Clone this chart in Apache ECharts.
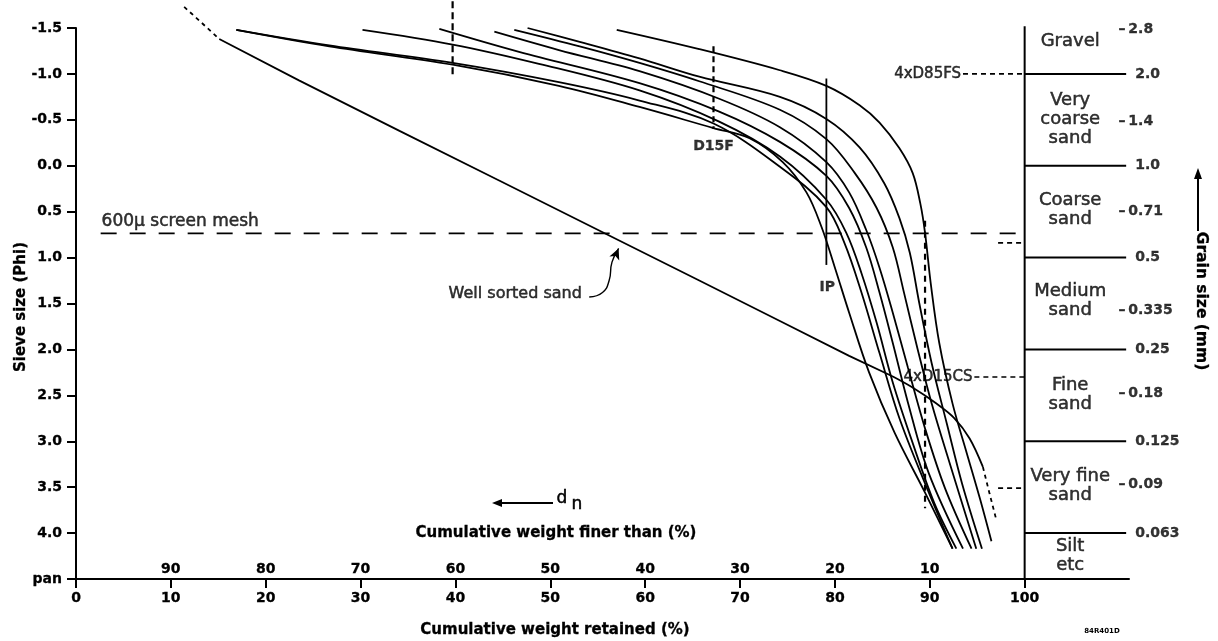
<!DOCTYPE html>
<html>
<head>
<meta charset="utf-8">
<title>Grading curves</title>
<script src="https://cdn.jsdelivr.net/npm/echarts@6.0.0/dist/echarts.min.js"></script>
<style>
  html, body { margin: 0; padding: 0; background: #fff; }
  #chart { width: 1218px; height: 641px; }
</style>
</head>
<body>
<div id="chart"></div>
<script>
// sieve size axis (phi), 4.5 is the pan
const phiMin = -1.5;
const phiMax = 4.5;
// cumulative weight retained (%) below the axis, finer than (%) above it
const retainedTicks = [0, 10, 20, 30, 40, 50, 60, 70, 80, 90, 100];
const finerTicks = [10, 20, 30, 40, 50, 60, 70, 80, 90];

// grain size scale (mm) on the right
const boundaryPhi = [-1, 0, 1, 2, 3, 4];
const boundaryMm = ['2.0', '1.0', '0.5', '0.25', '0.125', '0.063'];
const midPhi = [-1.485, -0.485, 0.494, 1.578, 2.474, 3.474];
const midMm = ['2.8', '1.4', '0.71', '0.335', '0.18', '0.09'];
const classNames = ['Gravel', 'Very\ncoarse\nsand', 'Coarse\nsand', 'Medium\nsand', 'Fine\nsand', 'Very fine\nsand', 'Silt\netc'];
const classPhi = [-1.36, -0.51, 0.48, 1.47, 2.49, 3.49, 4.25];

// grading curves, [% retained, phi]
const sampleA = [[57.0,-1.48],[65.7,-1.27],[74.2,-1.04],[79.1,-0.87],[82.6,-0.66],[84.7,-0.47],[86.8,-0.19],[88.2,0.08],[89.0,0.41],[89.5,0.73],[90.1,1.28],[91.0,1.93],[92.4,2.59],[93.9,3.13],[95.3,3.63],[96.5,4.09]];
const sampleB = [[47.6,-1.50],[53.1,-1.35],[59.4,-1.17],[65.7,-0.97],[74.2,-0.75],[79.1,-0.51],[82.6,-0.20],[85.2,0.19],[86.8,0.57],[87.9,0.95],[88.9,1.50],[90.2,2.15],[91.8,2.81],[93.4,3.46],[95.5,4.17]];
const sampleC = [[46.2,-1.48],[53.1,-1.30],[59.4,-1.12],[65.7,-0.92],[74.2,-0.61],[79.1,-0.29],[82.1,0.08],[84.4,0.46],[86.1,0.89],[87.3,1.39],[88.7,1.99],[90.2,2.59],[92.1,3.24],[94.9,4.17]];
const sampleD = [[44.1,-1.46],[50.9,-1.26],[59.4,-1.03],[67.8,-0.73],[74.2,-0.42],[79.1,-0.04],[81.5,0.29],[83.3,0.70],[84.7,1.11],[86.1,1.60],[87.7,2.20],[89.5,2.86],[91.6,3.51],[94.4,4.17]];
const sampleE = [[38.3,-1.49],[46.7,-1.24],[59.4,-0.90],[67.8,-0.59],[74.2,-0.26],[79.1,0.11],[81.5,0.46],[83.3,0.89],[84.7,1.38],[86.1,1.93],[87.7,2.58],[89.9,3.35],[93.5,4.17]];
const sampleF = [[30.2,-1.48],[39.7,-1.32],[48.8,-1.11],[59.4,-0.82],[67.8,-0.48],[74.2,-0.10],[79.1,0.37],[81.2,0.73],[82.8,1.17],[84.4,1.71],[86.1,2.36],[88.2,3.02],[90.5,3.68],[92.8,4.17]];
const sampleG = [[16.9,-1.48],[26.7,-1.31],[39.7,-1.12],[50.9,-0.91],[59.4,-0.71],[67.2,-0.46],[74.2,0.01],[79.1,0.45],[81.0,0.84],[82.8,1.38],[84.7,2.04],[86.8,2.75],[89.5,3.46],[92.4,4.17]];
const sampleH = [[16.9,-1.48],[26.7,-1.30],[39.7,-1.10],[50.9,-0.87],[59.4,-0.64],[67.2,-0.41],[71.0,-0.30],[74.5,-0.04],[77.0,0.29],[78.6,0.67],[80.0,1.11],[81.5,1.60],[83.6,2.25],[86.3,2.91],[89.5,3.56],[92.4,4.17]];

// well sorted sand: straight run, bending tail, and the dotted / dashed extensions
const wellSorted = [[15.1,-1.38],[23.5,-0.93],[34.1,-0.38],[44.6,0.16],[56.2,0.76],[65.7,1.25],[74.2,1.69],[81.5,2.07],[86.0,2.29]];
const wellSortedTail = [[86.0,2.29],[88.1,2.41],[90.7,2.59],[92.6,2.75],[94.2,2.97],[95.6,3.28]];
const wellSortedTop = [[11.4,-1.73],[13.0,-1.58],[15.1,-1.38]];
const wellSortedEnd = [[95.6,3.28],[96.3,3.57],[97.0,3.85]];

// construction lines
const screenMesh = [[2.6,0.737],[99.5,0.737]];
const meshStub = [[97.2,0.84],[99.8,0.84]];
const dashAt40 = [[39.7,-1.79],[39.7,-0.96]];
const d15fLine = [[67.2,-1.30],[67.2,-0.40]];
const ipLine = [[79.1,-0.95],[79.1,1.08]];
const dashAt90 = [[89.5,0.60],[89.5,3.73]];
const d85Leader = [[93.5,-1.0],[100,-1.0]];
const d15Leader = [[94.7,2.30],[100,2.30]];
const vfLeader = [[97.2,3.51],[100,3.51]];
const wsPointer = [[54.1,1.43],[55.5,1.38],[56.2,1.25],[56.5,1.05],[57.2,0.90]];
const scaleEdge = [[100,-1.52],[100,4.5]];
const scaleRight = 110.7;

const ink = '#000';
const chart = echarts.init(document.getElementById('chart'));

function line(data, opts) {
  return Object.assign({
    type: 'line', data: data, symbol: 'none', clip: false, silent: true,
    lineStyle: { color: ink, width: 1.8 }, z: 3
  }, opts || {});
}
function dashed(data, dash, width) {
  return line(data, { lineStyle: { color: ink, width: width || 2, type: dash } });
}
// text only marks anchored in data space
function texts(points, labels, label) {
  return {
    type: 'scatter', data: points, symbolSize: 0, clip: false, silent: true,
    itemStyle: { color: 'transparent' }, z: 6,
    label: Object.assign({
      show: true, color: ink, textBorderColor: ink, textBorderWidth: 0.5,
      formatter: p => labels[p.dataIndex]
    }, label)
  };
}

const samples = [sampleA, sampleB, sampleC, sampleD, sampleE, sampleF, sampleG, sampleH];
const pointer = wsPointer.map((p, i) => i === wsPointer.length - 1
  ? { value: p, symbol: 'arrow', symbolSize: [8, 11], symbolRotate: -23 } : p);

const series = [
  ...samples.map(d => line(d, { smooth: 0.35 })),
  line(wellSorted),
  line(wellSortedTail, { smooth: 0.35 }),
  dashed(wellSortedTop, [4, 4], 1.8),
  dashed(wellSortedEnd, [4, 4], 1.8),
  dashed(screenMesh, [16, 13], 1.8),
  dashed(meshStub, [5, 4], 1.8),
  dashed(dashAt40, [7, 4], 2.2),
  dashed(d15fLine, [6, 4], 2.2),
  line(ipLine),
  dashed(dashAt90, [6, 5], 2.2),
  dashed(d85Leader, [5, 4], 1.6),
  dashed(d15Leader, [5, 4], 1.6),
  dashed(vfLeader, [5, 4], 1.6),
  line(pointer, { smooth: 0.5, showSymbol: true, itemStyle: { color: ink }, lineStyle: { color: ink, width: 1.4 } }),
  line(scaleEdge, { lineStyle: { color: ink, width: 2 } }),
  ...boundaryPhi.map(p => line([[100, p], [scaleRight, p]], { lineStyle: { color: ink, width: 2 } })),
  texts(classPhi.map(p => [104.8, p]), classNames,
    { position: 'inside', fontFamily: 'DejaVu Sans', fontSize: 18, lineHeight: 19, align: 'center' }),
  texts(boundaryPhi.map(p => [111.65, p]), boundaryMm,
    { position: 'right', distance: 0, fontFamily: 'DejaVu Sans', fontWeight: 'bold', fontSize: 14, textBorderWidth: 0.3 }),
  texts(midPhi.map(p => [109.9, p]), midMm.map(v => '\u2013\u2009' + v),
    { position: 'right', distance: 0, fontFamily: 'DejaVu Sans', fontWeight: 'bold', fontSize: 14, textBorderWidth: 0.3 }),
  texts([[2.7, 0.61]], ['600\u00b5 screen mesh'],
    { position: 'right', distance: 0, fontFamily: 'DejaVu Sans', fontSize: 17 }),
  texts([[46.3, 1.40]], ['Well sorted sand'],
    { position: 'inside', fontFamily: 'DejaVu Sans', fontSize: 16 }),
  texts([[67.2, -0.21], [79.2, 1.32]], ['D15F', 'IP'],
    { position: 'inside', fontFamily: 'DejaVu Sans', fontWeight: 'bold', fontSize: 14, textBorderWidth: 0.3 }),
  texts([[93.3, -1.0], [94.5, 2.30]], ['4xD85FS', '4xD15CS'],
    { position: 'left', distance: 0, fontFamily: 'DejaVu Sans', fontSize: 15 })
];

const tickFont = {
  fontFamily: 'DejaVu Sans', fontWeight: 'bold', fontSize: 14, color: ink,
  textBorderColor: ink, textBorderWidth: 0.3
};
const titleStyle = {
  fill: ink, stroke: ink, lineWidth: 0.3, fontFamily: 'DejaVu Sans', fontWeight: 'bold',
  fontSize: 15, align: 'center', verticalAlign: 'middle'
};
const plainStyle = {
  fill: ink, stroke: ink, lineWidth: 0.5, fontFamily: 'DejaVu Sans',
  fontSize: 17, align: 'center', verticalAlign: 'middle'
};

const option = {
  animation: false,
  backgroundColor: '#fff',
  grid: { left: 76, right: 89, top: 28, bottom: 62, containLabel: false, outerBoundsMode: 'none' },
  xAxis: [
    {
      type: 'value', min: 0, max: 111, position: 'bottom',
      axisLine: { show: true, onZero: false, lineStyle: { color: ink, width: 2 } },
      axisTick: { show: true, customValues: retainedTicks, length: 9, lineStyle: { color: ink, width: 2 } },
      axisLabel: Object.assign({ customValues: retainedTicks, margin: 12 }, tickFont),
      splitLine: { show: false }
    },
    {
      type: 'value', min: 0, max: 111, position: 'bottom',
      axisLine: { show: false }, axisTick: { show: false },
      axisLabel: Object.assign({ inside: true, customValues: finerTicks, margin: 3, formatter: v => String(100 - v) }, tickFont),
      splitLine: { show: false }
    }
  ],
  yAxis: {
    type: 'value', min: phiMin, max: phiMax, interval: 0.5, inverse: true, position: 'left',
    axisLine: { show: true, onZero: false, lineStyle: { color: ink, width: 2 } },
    axisTick: { show: true, length: 9, lineStyle: { color: ink, width: 2 } },
    axisLabel: Object.assign({ margin: 14, formatter: v => v === 4.5 ? 'pan' : v.toFixed(1) }, tickFont),
    splitLine: { show: false }
  },
  graphic: [
    { type: 'text', x: 21, y: 307, rotation: Math.PI / 2,
      style: Object.assign({ text: 'Sieve size (Phi)' }, titleStyle) },
    { type: 'text', x: 555, y: 630,
      style: Object.assign({ text: 'Cumulative weight retained (%)' }, titleStyle) },
    { type: 'text', x: 556, y: 533,
      style: Object.assign({ text: 'Cumulative weight finer than (%)' }, titleStyle) },
    { type: 'text', x: 1201, y: 301, rotation: -Math.PI / 2,
      style: Object.assign({ text: 'Grain size (mm)' }, titleStyle, { fontSize: 15.5 }) },
    { type: 'line', shape: { x1: 1198, y1: 231, x2: 1198, y2: 176 }, style: { stroke: ink, lineWidth: 2 } },
    { type: 'polygon', shape: { points: [[1198, 168], [1194, 179], [1202, 179]] }, style: { fill: ink } },
    { type: 'line', shape: { x1: 553, y1: 503, x2: 500, y2: 503 }, style: { stroke: ink, lineWidth: 2 } },
    { type: 'polygon', shape: { points: [[492, 503], [502, 499], [502, 507]] }, style: { fill: ink } },
    { type: 'text', x: 562, y: 499, style: Object.assign({ text: 'd' }, plainStyle) },
    { type: 'text', x: 577, y: 505, style: Object.assign({ text: 'n' }, plainStyle) },
    { type: 'text', x: 1102, y: 631,
      style: Object.assign({ text: '84R401D' }, titleStyle, { fontSize: 7, lineWidth: 0 }) }
  ],
  series: series
};

chart.setOption(option);
</script>
</body>
</html>
